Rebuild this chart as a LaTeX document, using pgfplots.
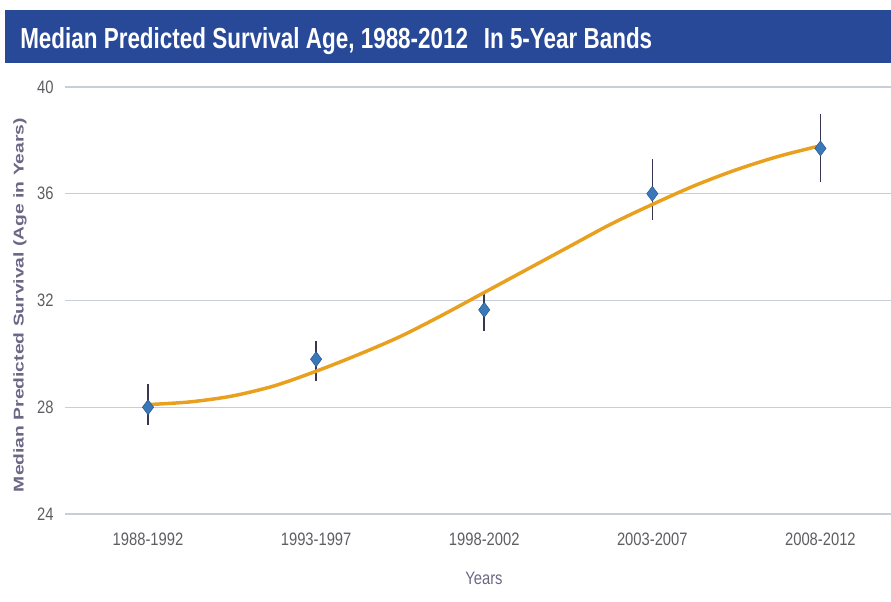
\documentclass[border=0pt]{standalone}
\usepackage{pgfplots}
\pgfplotsset{compat=1.18}
\usepackage{fontspec}
\setmainfont{Liberation Sans}
\newfontfamily\narrowfont[FakeStretch=0.82]{Liberation Sans}
\definecolor{titleblue}{RGB}{40,72,152}
\definecolor{gridcol}{RGB}{200,205,218}
\definecolor{markblue}{RGB}{58,120,185}
\definecolor{barcol}{RGB}{55,55,82}
\definecolor{curveorange}{RGB}{232,160,30}
\definecolor{ticktext}{RGB}{95,92,98}
\definecolor{labeltext}{RGB}{107,103,133}

% median survival per band, with asymmetric error ranges
\pgfplotstableread{
x y ep em
0 28.00 0.86 0.67
1 29.80 0.70 0.80
2 31.65 0.58 0.80
3 36.00 1.30 1.00
4 37.70 1.30 1.25
}\bands

\begin{document}
\begin{tikzpicture}
\useasboundingbox (0,0) rectangle (668.25pt,451.5pt);
% title banner
\fill[titleblue] (3.75pt,404.25pt) rectangle (668.25pt,444pt);
\node[anchor=base west, inner sep=0pt, text=white] at (15pt,415pt)
  {\resizebox{474pt}{15.75pt}{\bfseries Median Predicted Survival Age, 1988-2012\hspace{0.7em}In 5-Year Bands}};
\begin{axis}[
  at={(48.75pt,66pt)}, anchor=south west,
  width=619.5pt, height=320.25pt, scale only axis,
  xmin=-0.494, xmax=4.42, ymin=24, ymax=40,
  axis line style={draw=none},
  tick style={draw=none},
  ymajorgrids,
  grid style={gridcol, line width=0.9pt},
  ytick={24,28,32,36,40},
  xtick={0,1,2,3,4},
  xticklabels={1988-1992,1993-1997,1998-2002,2003-2007,2008-2012},
  /pgf/number format/assume math mode=true,
  ticklabel style={font=\narrowfont\fontsize{13.5}{15}\selectfont, text=ticktext},
  xticklabel style={yshift=-11pt},
  yticklabel style={xshift=-5pt},
  xlabel={Years},
  xlabel style={at={(axis description cs:0.5,0)}, anchor=center, xshift=4.5pt, yshift=-48pt,
    font=\narrowfont\fontsize{13.5}{15}\selectfont, text=labeltext},
  clip=false,
]
\addplot[only marks, mark=diamond*, mark size=5.6pt,
  mark options={fill=markblue, draw=markblue!75!black, line width=0.4pt},
  error bars/.cd, y dir=both, y explicit, error mark=none,
  error bar style={line width=1.1pt, barcol}]
  table[x=x, y=y, y error plus=ep, y error minus=em] {\bands};
% fitted trend
\addplot[curveorange, line width=2.6pt, smooth, no marks] coordinates {
  (0,28.10) (0.25,28.20) (0.5,28.42) (0.75,28.80) (1,29.35) (1.25,29.97)
  (1.5,30.65) (1.75,31.45) (2,32.30) (2.25,33.15) (2.5,34.00) (2.75,34.85)
  (3,35.60) (3.25,36.30) (3.5,36.90) (3.75,37.40) (4,37.80)
};
\end{axis}
\node[rotate=90, text=labeltext, inner sep=0pt] at (15pt,222.75pt)
  {\resizebox{280.5pt}{7.7pt}{\bfseries Median Predicted Survival (Age in Years)}};
\end{tikzpicture}
\end{document}
